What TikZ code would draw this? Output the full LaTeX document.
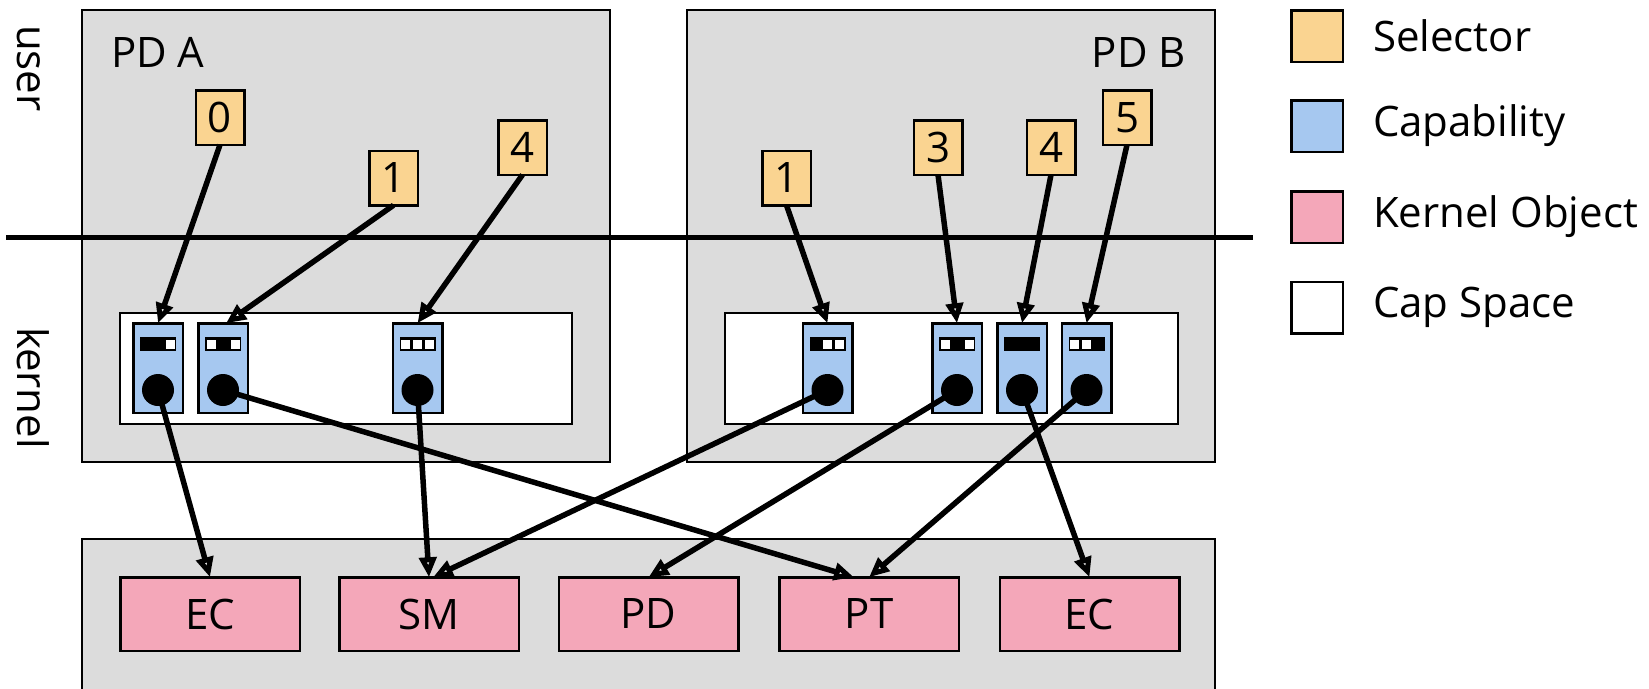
\documentclass[tikz,border=0pt]{standalone}
\usepackage{fontspec}
\setmainfont{Open Sans}
\usetikzlibrary{arrows.meta}

\definecolor{regionfill}{RGB}{220,220,220}
\definecolor{selfill}{RGB}{250,212,145}
\definecolor{capfill}{RGB}{166,200,240}
\definecolor{objfill}{RGB}{244,167,185}

% One capability slot: name, x position, and three permission cells
% (1 = open/white cell, 0 = set/black cell), plus its object dot.
\newcommand\mkcapslot[5]{%
  \node[capcell] (#1) at (#2,368) {};
  \fill (#2-18,337) rectangle (#2+18,351);
  \ifnum#3=1 \fill[white] (#2-16.5,339.5) rectangle ++(9,9);\fi
  \ifnum#4=1 \fill[white] (#2-4.5,339.5) rectangle ++(9,9);\fi
  \ifnum#5=1 \fill[white] (#2+7.5,339.5) rectangle ++(9,9);\fi
  \node[capdot] (#1d) at (#2,390) {};
}

\begin{document}
\begin{tikzpicture}[x=1pt,y=-1pt,
  every node/.style={inner sep=0pt, outer sep=0pt},
  txt/.style={font=\fontsize{42}{50}\selectfont},
  region/.style={draw=black, line width=2pt, fill=regionfill},
  space/.style={draw=black, line width=2.5pt, fill=white},
  selector/.style={draw, line width=2.5pt, fill=selfill,
    minimum width=48.5pt, minimum height=54.5pt, txt},
  capcell/.style={draw, line width=2.5pt, fill=capfill,
    minimum width=49.5pt, minimum height=89.5pt},
  capdot/.style={circle, fill=black, minimum size=32pt},
  kobj/.style={draw, line width=2.5pt, fill=objfill,
    minimum width=179.5pt, minimum height=73.5pt, txt},
  legendbox/.style={draw, line width=2.5pt, minimum size=51.5pt},
  link/.style={line width=5.5pt, -{Triangle[open, length=20pt, width=17pt]}},
]
\useasboundingbox (0,0) rectangle (1649,688);
\clip (0,0) rectangle (1649,688);

% protection domains and the kernel object area
\draw[region] (82,10) rectangle (610,462);
\draw[region] (687,10) rectangle (1215,462);
\draw[region] (82,539) rectangle (1215,720);

% user / kernel boundary
\coordinate (split-l) at (6,237);
\coordinate (split-r) at (1253,237);
\draw[line width=5pt] (split-l) -- (split-r);

\node[txt, rotate=-90, anchor=base west] (lbl-user) at (17,25) {user};
\node[txt, rotate=-90, anchor=base west] (lbl-kernel) at (17,327) {kernel};

\node[txt, anchor=base west] (lbl-pda) at (111,67) {PD A};
\node[txt, anchor=base east] (lbl-pdb) at (1186,67) {PD B};

% capability spaces
\draw[space] (120,313) rectangle (572,424);
\draw[space] (725,313) rectangle (1178,424);

\mkcapslot{ca1}{158}{0}{0}{1}
\mkcapslot{ca2}{223}{1}{0}{1}
\mkcapslot{ca3}{417.5}{1}{1}{1}
\mkcapslot{cb1}{827.5}{0}{1}{1}
\mkcapslot{cb2}{957}{1}{0}{1}
\mkcapslot{cb3}{1022}{0}{0}{0}
\mkcapslot{cb4}{1086.5}{1}{1}{0}

% selectors
\node[selector] (sa0) at (220,117.5) {0};
\node[selector] (sa1) at (393.5,178) {1};
\node[selector] (sa4) at (522.5,147.5) {4};
\node[selector] (sb1) at (786.5,178) {1};
\node[selector] (sb3) at (938,147.5) {3};
\node[selector] (sb4) at (1051,147.5) {4};
\node[selector] (sb5) at (1127,117.5) {5};

% kernel objects
\node[kobj] (ec1) at (210,614) {EC};
\node[kobj] (sm)  at (429,614) {SM};
\node[kobj] (pd)  at (648.5,614) {PD};
\node[kobj] (pt)  at (869,614) {PT};
\node[kobj] (ec2) at (1089.5,614) {EC};

% selector -> capability
\draw[link] (sa0.south) -- (ca1.north);
\draw[link] (sa1.south) -- ([xshift=3pt]ca2.north);
\draw[link] (sa4.south) -- (ca3.north);
\draw[link] (sb1.south) -- (cb1.north);
\draw[link] (sb3.south) -- (cb2.north);
\draw[link] (sb4.south) -- (cb3.north);
\draw[link] (sb5.south) -- (cb4.north);

% capability -> kernel object
\draw[link] (ca1d.center) -- (ec1.north);
\draw[link] (ca2d.center) -- ([xshift=-15pt]pt.north);
\draw[link] (ca3d.center) -- (sm.north);
\draw[link] (cb1d.center) -- ([xshift=4pt]sm.north);
\draw[link] (cb2d.center) -- (pd.north);
\draw[link] (cb3d.center) -- (ec2.north);
\draw[link] (cb4d.center) -- (pt.north);

% legend
\node[legendbox, fill=selfill] (lg-sel) at (1317,36) {};
\node[legendbox, fill=capfill] (lg-cap) at (1317,126) {};
\node[legendbox, fill=objfill] (lg-obj) at (1317,217) {};
\node[legendbox, fill=white]   (lg-spc) at (1317,307.5) {};
\node[txt, anchor=west] (lt-sel) at (1373,36) {Selector};
\node[txt, anchor=west] (lt-cap) at (1373,126) {Capability};
\node[txt, anchor=west] (lt-obj) at (1373,217) {Kernel Object};
\node[txt, anchor=west] (lt-spc) at (1373,307.5) {Cap Space};
\end{tikzpicture}
\end{document}
